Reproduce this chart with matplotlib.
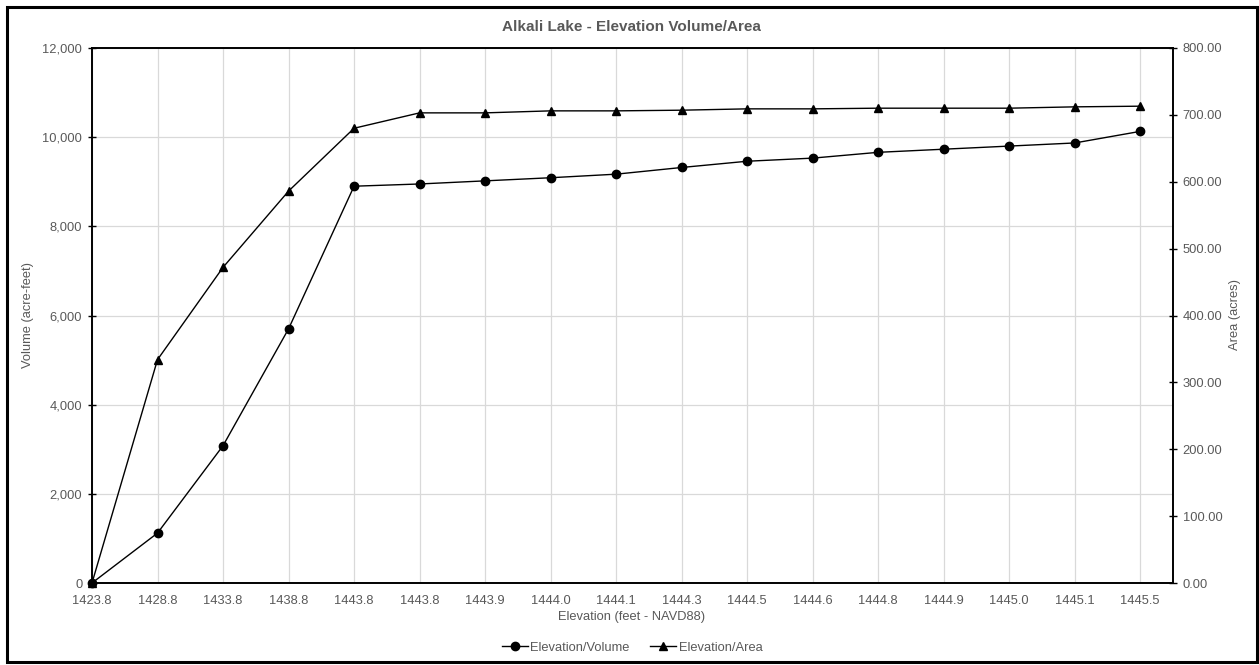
import matplotlib
matplotlib.use("Agg")
import matplotlib.pyplot as plt
from matplotlib.patches import Rectangle
from matplotlib.ticker import FuncFormatter, MultipleLocator

plt.rcParams["font.family"] = ["Liberation Sans", "DejaVu Sans"]

# ---------------------------------------------------------------------------
# Data
# ---------------------------------------------------------------------------
elevation_labels = [
    "1423.8", "1428.8", "1433.8", "1438.8", "1443.8", "1443.8", "1443.9",
    "1444.0", "1444.1", "1444.3", "1444.5", "1444.6", "1444.8", "1444.9",
    "1445.0", "1445.1", "1445.5",
]
volume_acre_ft = [
    0, 1120, 3080, 5700, 8900, 8950, 9020, 9090, 9170, 9320, 9460, 9530,
    9660, 9730, 9800, 9870, 10130,
]
area_acres = [
    0, 334, 472, 586, 680, 703, 703, 706, 706, 707, 709, 709, 710, 710,
    710, 712, 713,
]

W, H = 1259, 665
GRID = "#d9d9d9"
TXT = "#595959"
FS = 9.3

fig = plt.figure(figsize=(W / 100, H / 100), dpi=100)
# plot area in pixel coords: left 92, right 1173, top 48, bottom 583
ax = fig.add_axes([92 / W, 1 - 583 / H, (1173 - 92) / W, (583 - 48) / H])
ax2 = ax.twinx()

x = list(range(len(elevation_labels)))

l1, = ax.plot(x, volume_acre_ft, color="black", lw=1.0, marker="o",
              markersize=6, label="Elevation/Volume", clip_on=False, zorder=3)
l2, = ax2.plot(x, area_acres, color="black", lw=1.0, marker="^",
               markersize=5.5, label="Elevation/Area", clip_on=False, zorder=3)

ax.set_xlim(0, len(x) - 0.5)
ax.set_ylim(0, 12000)
ax2.set_ylim(0, 800)
ax.yaxis.set_major_locator(MultipleLocator(2000))
ax2.yaxis.set_major_locator(MultipleLocator(100))
ax.yaxis.set_major_formatter(FuncFormatter(lambda v, p: f"{v:,.0f}"))
ax2.yaxis.set_major_formatter(FuncFormatter(lambda v, p: f"{v:.2f}"))

ax.set_xticks(x)
ax.set_xticklabels(elevation_labels)
ax.grid(True, color=GRID, lw=0.9)
ax.set_axisbelow(True)

ax.tick_params(axis="x", length=0, pad=9, labelsize=FS, labelcolor=TXT)
ax.tick_params(axis="y", length=6, width=1, direction="inout", labelsize=FS,
               labelcolor=TXT, pad=4)
ax2.tick_params(axis="y", length=6, width=1, direction="inout", labelsize=FS,
                labelcolor=TXT, pad=4)

for a in (ax, ax2):
    for s in a.spines.values():
        s.set_color("black")
        s.set_linewidth(1.2)

ax.set_ylabel("Volume (acre-feet)", fontsize=FS, color=TXT)
ax2.set_ylabel("Area (acres)", fontsize=FS, color=TXT)
ax.yaxis.set_label_coords(28 / W, 1 - 315 / H, transform=fig.transFigure)
ax2.yaxis.set_label_coords(1235 / W, 1 - 315 / H, transform=fig.transFigure)
ax.set_xlabel("Elevation (feet - NAVD88)", fontsize=FS, color=TXT)
ax.xaxis.set_label_coords(632 / W, 1 - 617 / H, transform=fig.transFigure)
ax.xaxis.label.set_va("center")
ax.yaxis.label.set_va("center")
ax2.yaxis.label.set_va("center")

fig.text(631 / W, 1 - 27 / H, "Alkali Lake - Elevation Volume/Area",
         ha="center", va="center", fontsize=11, fontweight="bold", color=TXT)

fig.legend(handles=[l1, l2], loc="center", bbox_to_anchor=(632 / W, 1 - 648 / H),
           ncol=2, frameon=False, fontsize=FS, labelcolor=TXT,
           handlelength=2.0, handletextpad=0.2, columnspacing=1.6)

# outer chart frame
fig.patches.append(Rectangle((7 / W, 3 / H), 1250 / W, 655 / H,
                             transform=fig.transFigure, fill=False,
                             edgecolor="black", lw=2.2))

fig.savefig("out.png", dpi=100, facecolor="white")
